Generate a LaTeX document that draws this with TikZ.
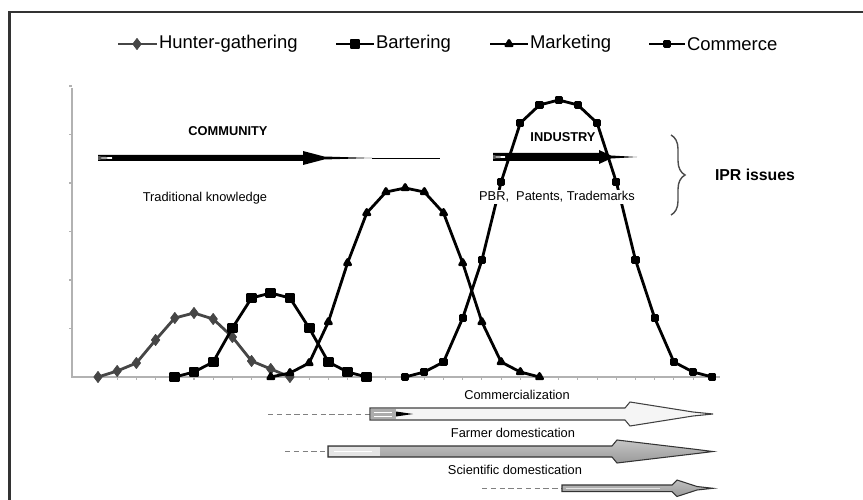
\documentclass[tikz,border=0pt]{standalone}
\usepackage{fontspec}
\setmainfont{Liberation Sans}
\usetikzlibrary{plotmarks,decorations.pathreplacing}
\pgfkeys{/pixel/.code=\tikzset{x={(0.02cm,0cm)},y={(0cm,-0.02cm)}}}
\pgfkeys{/chart/.code=\tikzset{x={(0.384cm,0cm)},y={(0cm,-0.02cm)}}}

\begin{document}
\begin{tikzpicture}[/pixel,
  curve/.style={line width=1.6pt,line join=round},
  hunter/.style={curve,draw=gray!55!black,mark=diamond*,mark size=3.2pt,
    mark options={fill=gray!55!black,draw=gray!55!black,line width=.4pt}},
  barter/.style={curve,mark=square*,mark size=2.3pt},
  market/.style={curve,mark=triangle*,mark size=2pt},
  commerce/.style={curve,mark=square*,mark size=1.5pt},
  axisline/.style={gray!60,line width=.6pt},
  lbl/.style={font=\fontsize{7.3}{8}\selectfont,inner sep=1pt},
  boldlbl/.style={font=\fontsize{7.3}{8}\selectfont\bfseries,inner sep=1pt},
  legend/.style={font=\fontsize{10.5}{12}\selectfont,anchor=west,inner sep=1pt},
  lead/.style={gray,densely dashed,line width=.5pt}]
\useasboundingbox (0,0) rectangle (863,500);
\clip (0,0) rectangle (863,500);
\draw[line width=1.2pt,black!80] (9.5,600) -- (9.5,12) -- (950,12);

% legend
\draw[hunter] plot[mark indices={2}] coordinates {(118,44) (137,44) (157,44)};
\node[legend] (lhunter) at (157,44) {Hunter-gathering};
\draw[barter] plot[mark indices={2}] coordinates {(336,44) (355,44) (374,44)};
\node[legend] (lbarter) at (374,44) {Bartering};
\draw[market] plot[mark indices={2}] coordinates {(490,44) (509,44) (528,44)};
\node[legend] (lmarket) at (528,44) {Marketing};
\draw[commerce] plot[mark indices={2}] coordinates {(649,44) (667,44) (685,44)};
\node[legend] (lcommerce) at (685,44) {Commerce};

% axes
\draw[axisline] (72,88) -- (72,377) -- (720,377);
\foreach \k in {1,...,6}
  \draw[axisline] (69,{377-48.5*\k}) -- (72,{377-48.5*\k});

\begin{scope}[shift={(98,0)},/chart]
\foreach \i in {0,...,32} \draw[axisline] (\i,377) -- (\i,380);
\draw[hunter] plot coordinates {(0,377) (1,371) (2,363) (3,340) (4,318) (5,313)
  (6,319) (7,337) (8,361) (9,369) (10,377)};
\draw[barter] plot coordinates {(4,377) (5,372) (6,362) (7,328) (8,298) (9,293)
  (10,298) (11,328) (12,362) (13,372) (14,377)};
\draw[market] plot coordinates {(9,377) (10,373) (11,363) (12,322) (13,263) (14,213)
  (15,192) (16,188) (17,192) (18,213) (19,263) (20,322) (21,362) (22,372) (23,377)};
\draw[commerce] plot coordinates {(16,377) (17,372) (18,362) (19,318) (20,260) (21,182)
  (22,123) (23,105) (24,100) (25,105) (26,123) (27,182) (28,260) (29,318) (30,362)
  (31,372) (32,377)};
\end{scope}

% community and industry
\fill (98,155) -- (303,155) -- (303,151) -- (324,156.5) -- (372,158) -- (324,159.5)
  -- (303,165) -- (303,161) -- (98,161) -- cycle;
\draw[white,line width=.4pt] (98,157) -- (112,157.6) (98,159) -- (112,158.4);
\draw[line width=.5pt] (372,158) -- (440,158);
\fill (493,153) -- (599,153) -- (599,150) -- (611,155.5) -- (637,157) -- (611,158.5)
  -- (599,164) -- (599,161) -- (493,161) -- cycle;
\draw[white,line width=.4pt] (493,156) -- (505,156.6) (493,158) -- (505,157.4);

\node[boldlbl] (community) at (228,131) {COMMUNITY};
\node[lbl] (tradknow) at (205,198) {Traditional knowledge};
\node[boldlbl] (industry) at (563,137) {INDUSTRY};
\node[lbl,fill=white] (pbr) at (557,197) {PBR,\ \ Patents, Trademarks};
\draw[gray!60!black,line width=.8pt,decorate,decoration={brace,amplitude=8pt}]
  (671,135) -- (671,215);
\node[font=\fontsize{9}{10}\selectfont\bfseries] (ipr) at (755,175) {IPR issues};

% domestication arrows
\node[lbl] (commerc) at (517,395) {Commercialization};
\draw[lead] (268,414) -- (370,414);
\filldraw[fill=gray!8,draw=gray!50!black,line width=.6pt] (370,408) -- (625,408)
  -- (630,402) -- (693,412) -- (713,414) -- (693,416) -- (630,426) -- (625,420)
  -- (370,420) -- cycle;
\fill[gray!65] (371,409) rectangle (396,419);
\fill (396,411.5) -- (413,414) -- (396,416.5) -- cycle;
\draw[white,line width=.4pt] (374,412) -- (392,412) (374,416) -- (392,416);

\node[lbl] (farmer) at (513,433) {Farmer domestication};
\draw[lead] (285,451.5) -- (328,451.5);
\shade[top color=gray!45,bottom color=gray!80] (328,446) -- (612,446) -- (617,440)
  -- (697,449.5) -- (713,451.5) -- (697,453.5) -- (617,463) -- (612,457) -- (328,457)
  -- cycle;
\draw[gray!40!black,line width=.6pt] (328,446) -- (612,446) -- (617,440)
  -- (697,449.5) -- (713,451.5) -- (697,453.5) -- (617,463) -- (612,457) -- (328,457)
  -- cycle;
\fill[gray!20] (329,447) rectangle (380,456);
\draw[white,line width=.5pt] (334,451.5) -- (372,451.5);

\node[lbl] (scient) at (515,470) {Scientific domestication};
\draw[lead] (482,488.3) -- (562,488.3);
\shade[top color=gray!50,bottom color=gray!80] (562,485) -- (672,485) -- (677,480)
  -- (697,486.5) -- (713,488.3) -- (697,490) -- (677,496.5) -- (672,491.7)
  -- (562,491.7) -- cycle;
\draw[gray!40!black,line width=.6pt] (562,485) -- (672,485) -- (677,480)
  -- (697,486.5) -- (713,488.3) -- (697,490) -- (677,496.5) -- (672,491.7)
  -- (562,491.7) -- cycle;
\draw[gray!20,line width=.5pt] (566,488.3) -- (660,488.3);
\end{tikzpicture}
\end{document}
